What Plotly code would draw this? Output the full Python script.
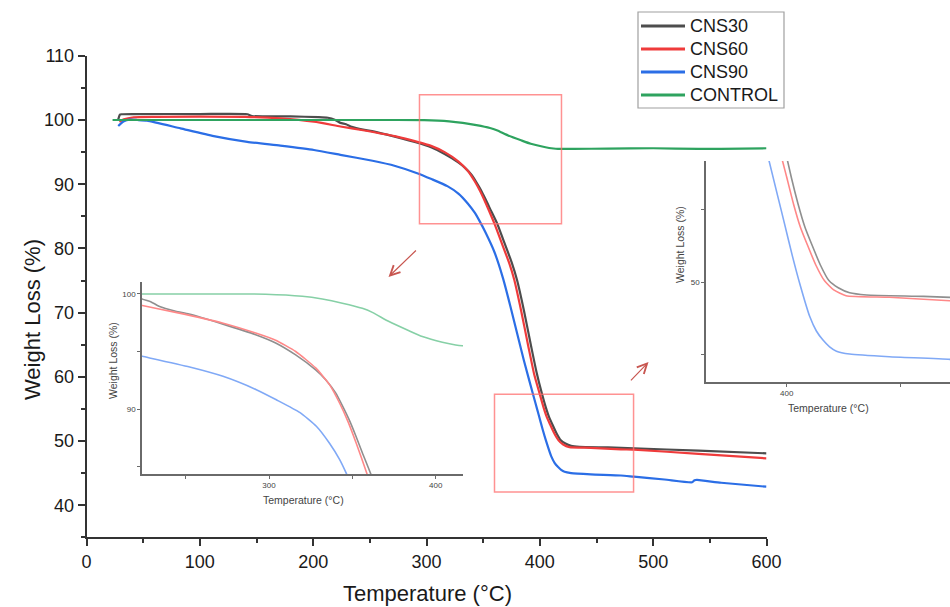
import plotly.graph_objects as go

FW, FH = 950, 607
FONT = "Liberation Sans, Arial, sans-serif"

# ---------------- data (temperature in °C, weight in %) ----------------
cns30_t = [28, 29.5, 31, 40, 100, 142, 146, 180, 205, 213, 219, 224, 229, 234, 244, 252, 272, 292, 304,
           316, 328, 334, 340, 344, 348, 352, 356, 362.4, 368, 375, 380, 386, 392.4, 397, 402, 405, 408,
           411, 414.7, 418.5, 422.6, 427.6, 435, 460, 483, 540, 600]
cns30_w = [100.1, 100.85, 100.9, 100.93, 100.93, 100.9, 100.62, 100.55, 100.45, 100.35, 100.05, 99.55,
           99.33, 98.93, 98.5, 98.26, 97.4, 96.46, 95.74, 94.7, 93.4, 92.55, 91.4, 90.3, 89.1, 87.7, 86.2,
           83.85, 81.2, 77.9, 75.0, 70.3, 64.69, 60.8, 57.27, 55.4, 53.8, 52.6, 51.2, 50.1, 49.6, 49.25,
           49.1, 49.0, 48.86, 48.5, 48.08]

cns60_t = [29, 33, 41.5, 60, 140, 171, 200.7, 224, 244, 272, 292, 304, 316, 328, 336.4, 342.4, 347.4,
           352.4, 358, 360.3, 366, 373, 377.5, 383.5, 389.9, 395, 400, 403, 406, 409, 412.7, 416.5, 420.6,
           426, 445, 471.5, 483, 540, 600]
cns60_w = [99.74, 100.1, 100.42, 100.5, 100.5, 100.26, 99.74, 98.99, 98.4, 97.48, 96.6, 95.97, 95.0, 93.57,
           92.1, 90.5, 88.9, 87.0, 84.7, 83.7, 81.0, 77.7, 75.08, 70.3, 64.69, 60.4, 57.27, 55.4, 53.8,
           52.6, 51.2, 50.1, 49.45, 49.05, 48.94, 48.7, 48.65, 48.0, 47.3]

cns90_t = [28, 30, 33, 38, 45, 53.5, 82.9, 112.3, 141.8, 171, 200.7, 224, 252.4, 272.4, 292.4, 304.4,
           318.4, 328.4, 336.4, 342.4, 346.4, 352, 360, 367.6, 374, 380.6, 386, 391.8, 396, 399.1,
           402.5, 405.7, 410.1, 413, 415.9, 418.8, 421.8, 427.6, 445, 471.5, 483, 510, 534.4, 536.5,
           538.8, 560, 600]
cns90_w = [99.07, 99.4, 99.8, 100.05, 100.0, 99.9, 98.7, 97.5, 96.6, 96.0, 95.33, 94.58, 93.65, 92.84,
           91.68, 90.8, 89.7, 88.5, 87.0, 85.6, 84.4, 82.5, 79.4, 75.3, 71.0, 66.3, 62.5, 58.7,
           56.0, 54.0, 51.8, 49.9, 47.6, 46.6, 45.97, 45.5, 45.2, 45.0, 44.81, 44.63, 44.44, 44.0, 43.57,
           43.9, 43.93, 43.5, 42.88]

control_t = [23, 60, 100, 150, 200, 250, 298, 320, 332, 344, 356, 362, 372, 384, 392, 404, 412, 416, 430,
             460, 500, 540, 560, 600]
control_w = [100.0, 100.0, 100.0, 100.0, 100.0, 100.0, 99.98, 99.8, 99.56, 99.2, 98.75, 98.4, 97.6, 96.8,
             96.3, 95.8, 95.56, 95.5, 95.5, 95.55, 95.6, 95.5, 95.5, 95.6]

series_names = ["CNS30", "CNS60", "CNS90", "CONTROL"]
main_colors = ["#4d4d4d", "#ef3b3b", "#2b6ee6", "#2ea35f"]
inset_colors = ["#8f8f8f", "#ff8888", "#80a9f6", "#86d0a6"]

x_ticks_main = [0, 100, 200, 300, 400, 500, 600]
y_ticks_main = [40, 50, 60, 70, 80, 90, 100, 110]

# zoom boxes on the main chart (data coords)
box_x0 = [293.8, 360.0]
box_x1 = [419.1, 482.7]
box_y0 = [83.85, 42.06]
box_y1 = [103.94, 57.27]

# ---------------- figure ----------------
data = [(cns30_t, cns30_w), (cns60_t, cns60_w), (cns90_t, cns90_w), (control_t, control_w)]

fig = go.Figure()
for (t, w), name, c in zip(data, series_names, main_colors):
    fig.add_trace(go.Scatter(x=t, y=w, mode="lines", name=name, showlegend=False,
                             line=dict(color=c, width=2.2, shape="spline", smoothing=0.5),
                             xaxis="x", yaxis="y"))
for ax in ("2", "3"):
    for (t, w), name, c in zip(data, series_names, inset_colors):
        fig.add_trace(go.Scatter(x=t, y=w, mode="lines", name=name, showlegend=False,
                                 line=dict(color=c, width=1.6, shape="spline", smoothing=0.5),
                                 xaxis="x" + ax, yaxis="y" + ax, hoverinfo="skip"))


def fx(p):
    return p / FW


def fy(p):
    return 1 - p / FH


main_ax = dict(showgrid=False, zeroline=False, showline=True, linecolor="#333", linewidth=1.6,
               ticks="outside", ticklen=7, tickwidth=1.5, tickcolor="#333", automargin=False,
               tickfont=dict(size=18, color="#1a1a1a", family=FONT))
inset_ax = dict(showgrid=False, zeroline=False, showline=True, linecolor="#6a6a6a", linewidth=1.5,
                ticks="outside", ticklen=3, tickwidth=1, tickcolor="#6a6a6a", automargin=False,
                tickfont=dict(size=8, color="#444", family=FONT))

fig.update_layout(
    width=FW, height=FH, margin=dict(l=0, r=0, t=0, b=0),
    paper_bgcolor="white", plot_bgcolor="white",
    font=dict(family=FONT, color="#1a1a1a"),
    xaxis=dict(main_ax, domain=[fx(86.5), fx(766.5)], range=[0, 600], tickvals=x_ticks_main,
               minor=dict(dtick=50, tick0=0, ticks="outside", ticklen=4, tickcolor="#333", tickwidth=1.5),
               anchor="y"),
    yaxis=dict(main_ax, domain=[fy(537.3), fy(55.8)], range=[35, 110], tickvals=y_ticks_main,
               minor=dict(dtick=5, tick0=0, ticks="outside", ticklen=4, tickcolor="#333", tickwidth=1.5),
               anchor="x"),
    xaxis2=dict(inset_ax, domain=[fx(142), fx(463)], range=[223.8, 416.4], dtick=100, tick0=0,
                minor=dict(dtick=50, tick0=0, ticks="outside", ticklen=3, tickcolor="#6a6a6a"),
                anchor="y2"),
    yaxis2=dict(inset_ax, domain=[fy(474), fy(282)], range=[84.35, 101.04], dtick=10, tick0=0,
                minor=dict(dtick=5, tick0=0, ticks="outside", ticklen=3, tickcolor="#6a6a6a"),
                anchor="x2"),
    xaxis3=dict(inset_ax, domain=[fx(706), 1.0], range=[364.6, 471.6], dtick=100, tick0=0,
                minor=dict(dtick=50, tick0=0, ticks="outside", ticklen=3, tickcolor="#6a6a6a"),
                anchor="y3"),
    yaxis3=dict(inset_ax, domain=[fy(382), fy(161)], range=[43.06, 58.4], dtick=10, tick0=0,
                minor=dict(dtick=5, tick0=0, ticks="outside", ticklen=3, tickcolor="#6a6a6a"),
                anchor="x3"),
    showlegend=False,
)

# zoom boxes
for x0, x1, y0, y1 in zip(box_x0, box_x1, box_y0, box_y1):
    fig.add_shape(type="rect", xref="x", yref="y", x0=x0, x1=x1, y0=y0, y1=y1,
                  line=dict(color="rgba(255,110,110,0.75)", width=1.5), fillcolor="rgba(0,0,0,0)")

# arrows pointing to insets
arrow_tail = [(292.0, 79.9), (479.1, 59.2)]
arrow_head = [(266.5, 75.55), (495.9, 62.3)]
for (tx, ty), (hx, hy) in zip(arrow_tail, arrow_head):
    fig.add_annotation(x=hx, y=hy, ax=tx, ay=ty, xref="x", yref="y", axref="x", ayref="y",
                       text="", showarrow=True, arrowhead=5, arrowsize=1.6, arrowwidth=1.2,
                       arrowcolor="#c85650", standoff=0)

# legend (boxed, top right)
fig.add_shape(type="rect", xref="paper", yref="paper", x0=fx(638), x1=fx(784), y0=fy(108), y1=fy(12),
              line=dict(color="#a0a0a0", width=1.2), fillcolor="white")
for i, (name, c) in enumerate(zip(series_names, main_colors)):
    yy = 26 + 23 * i
    fig.add_shape(type="line", xref="paper", yref="paper", x0=fx(641), x1=fx(685), y0=fy(yy), y1=fy(yy),
                  line=dict(color=c, width=3))
    fig.add_annotation(x=fx(688), y=fy(yy), xref="paper", yref="paper", text=name, showarrow=False,
                       xanchor="left", yanchor="middle", font=dict(size=18, color="#1a1a1a", family=FONT))

# axis titles
titles = [
    ("Temperature (°C)", 427, 593, 0, 22, "#1a1a1a"),
    ("Weight Loss (%)", 32, 320, -90, 22, "#1a1a1a"),
    ("Temperature (°C)", 303, 500, 0, 10.5, "#444"),
    ("Weight Loss (%)", 113, 361, -90, 10.5, "#444"),
    ("Temperature (°C)", 828, 408, 0, 10.5, "#444"),
    ("Weight Loss (%)", 680, 245, -90, 10.5, "#444"),
]
for txt, px, py, ang, size, col in titles:
    fig.add_annotation(x=fx(px), y=fy(py), xref="paper", yref="paper", text=txt, showarrow=False,
                       textangle=ang, xanchor="center", yanchor="middle",
                       font=dict(size=size, color=col, family=FONT))

fig.write_html("out.html")
